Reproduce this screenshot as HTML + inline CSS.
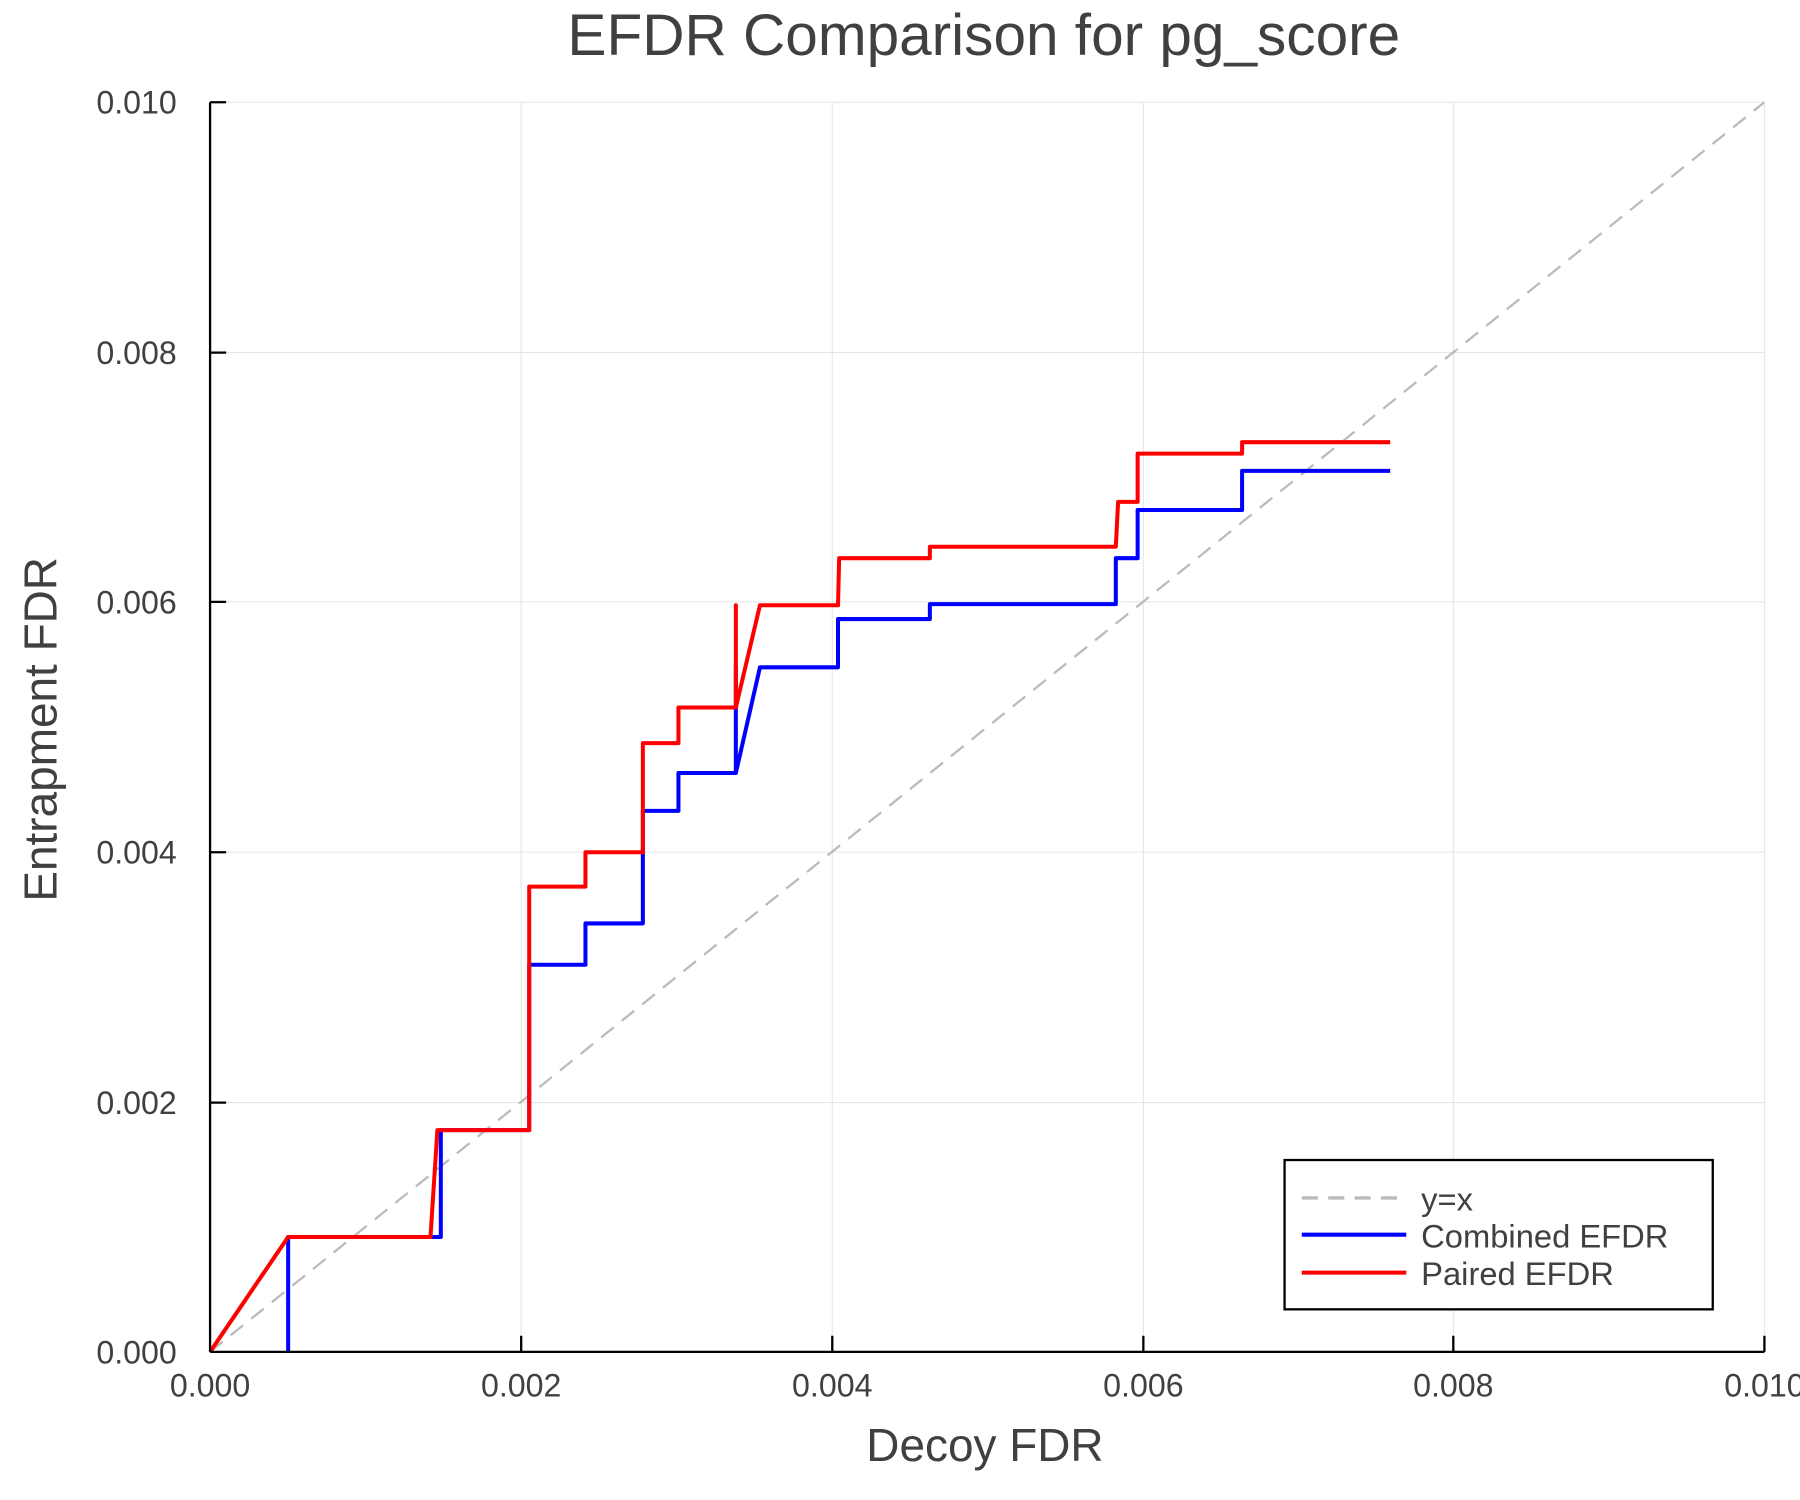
<!DOCTYPE html>
<html><head><meta charset="utf-8"><style>html,body{margin:0;padding:0;background:#fff}svg{display:block}</style></head>
<body>
<svg width="1800" height="1500" viewBox="0 0 1568 1306" preserveAspectRatio="none" xmlns="http://www.w3.org/2000/svg" font-family="Liberation Sans, sans-serif" fill="#404040">
<rect width="1568" height="1306" fill="#fff"/>
<g stroke="#e6e6e6" stroke-width="1">
<line x1="454" y1="89" x2="454" y2="1177"/><line x1="725" y1="89" x2="725" y2="1177"/><line x1="996" y1="89" x2="996" y2="1177"/><line x1="1266" y1="89" x2="1266" y2="1177"/><line x1="1537" y1="89" x2="1537" y2="1177"/>
<line x1="183" y1="89" x2="1537" y2="89"/><line x1="183" y1="307" x2="1537" y2="307"/><line x1="183" y1="524" x2="1537" y2="524"/><line x1="183" y1="742" x2="1537" y2="742"/><line x1="183" y1="960" x2="1537" y2="960"/>
</g>
<line x1="183" y1="1177" x2="1537" y2="89" stroke="#bbb" stroke-width="2" stroke-dasharray="14,9"/>
<polyline fill="none" stroke="#0000ff" stroke-width="3.5" stroke-linejoin="round" points="251,1177 251,1077 384,1077 384,984 461,984 461,840 510,840 510,804 560,804 560,706 591,706 591,673 641,673 641,580 641,673 662,581 730,581 730,539 810,539 810,526 972,526 972,486 976,486 991,486 991,444 1082,444 1082,410 1211,410"/>
<polyline fill="none" stroke="#ff0000" stroke-width="3.5" stroke-linejoin="round" points="183,1177 251,1077 375,1077 381,984 461,984 461,772 510,772 510,742 560,742 560,647 591,647 591,616 641,616 641,527 641,616 662,527 730,527 731,486 810,486 810,476 972,476 974,437 991,437 991,395 1082,395 1082,385 1211,385"/>
<g stroke="#000" stroke-width="2">
<line x1="183" y1="1177" x2="1537" y2="1177"/><line x1="183" y1="89" x2="183" y2="1177"/>
<line x1="454" y1="1177" x2="454" y2="1163"/><line x1="725" y1="1177" x2="725" y2="1163"/><line x1="996" y1="1177" x2="996" y2="1163"/><line x1="1266" y1="1177" x2="1266" y2="1163"/><line x1="1537" y1="1177" x2="1537" y2="1163"/>
<line x1="183" y1="89" x2="197" y2="89"/><line x1="183" y1="307" x2="197" y2="307"/><line x1="183" y1="524" x2="197" y2="524"/><line x1="183" y1="742" x2="197" y2="742"/><line x1="183" y1="960" x2="197" y2="960"/>
</g>
<g font-size="28" text-anchor="middle">
<text x="183" y="1216">0.000</text><text x="454" y="1216">0.002</text><text x="725" y="1216">0.004</text><text x="996" y="1216">0.006</text><text x="1266" y="1216">0.008</text><text x="1537" y="1216">0.010</text>
</g>
<g font-size="28" text-anchor="end">
<text x="154" y="1187">0.000</text><text x="154" y="970">0.002</text><text x="154" y="752">0.004</text><text x="154" y="534">0.006</text><text x="154" y="317">0.008</text><text x="154" y="99">0.010</text>
</g>
<text x="857" y="48" font-size="51" text-anchor="middle">EFDR Comparison for pg_score</text>
<text x="858" y="1272" font-size="40" text-anchor="middle">Decoy FDR</text>
<text transform="translate(49,635) rotate(-90)" font-size="40" text-anchor="middle">Entrapment FDR</text>
<rect x="1119" y="1010" width="373" height="130" fill="#fff" stroke="#000" stroke-width="2"/>
<line x1="1134" y1="1043" x2="1225" y2="1043" stroke="#bbb" stroke-width="3" stroke-dasharray="14,9"/>
<line x1="1134" y1="1075" x2="1225" y2="1075" stroke="#0000ff" stroke-width="3.5"/>
<line x1="1134" y1="1108" x2="1225" y2="1108" stroke="#ff0000" stroke-width="3.5"/>
<g font-size="28.5"><text x="1238" y="1054">y=x</text><text x="1238" y="1086">Combined EFDR</text><text x="1238" y="1119">Paired EFDR</text></g>
</svg>
</body></html>
